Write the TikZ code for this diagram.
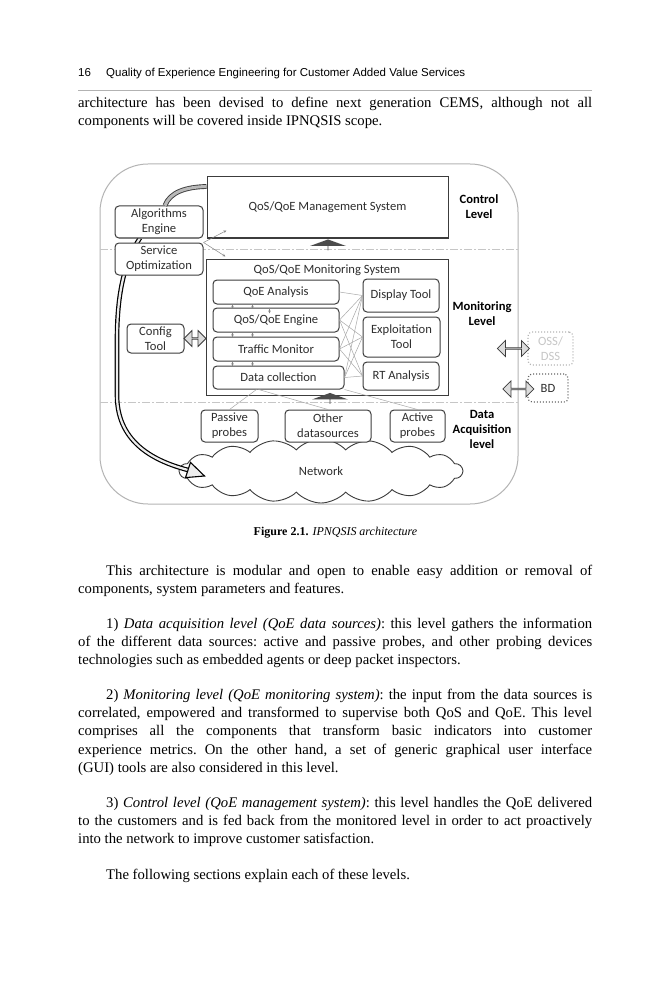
\documentclass[tikz,border=0pt]{standalone}
\usepackage{fontspec}
\setmainfont{Liberation Serif}
\newfontfamily\hdfont{Liberation Sans}
\newfontfamily\dgfont{Carlito}
\usetikzlibrary{shapes.symbols,shapes.arrows,calc,arrows.meta}
\definecolor{boxc}{HTML}{3C3C3C}
\definecolor{txtc}{HTML}{2E2E2E}
\definecolor{framec}{HTML}{B4B4B4}
\definecolor{meshc}{HTML}{A8A8A8}
\definecolor{fillc}{HTML}{DCDCDC}
\newcommand\bodyfont{\fontsize{14.7}{18.2}\selectfont\frenchspacing}
\newcommand\dgsize{\fontsize{12.6}{15}\selectfont}
\tikzset{
  box/.style={draw=boxc, line width=1pt, fill=white, font=\dgfont\dgsize, text=txtc, align=center, inner sep=0pt},
  rbox/.style={box, rounded corners=4pt},
  lvl/.style={font=\dgfont\bfseries\dgsize, text=black, align=center, inner sep=0pt},
  lbl/.style={font=\dgfont\dgsize, text=txtc, inner sep=0pt},
  mesh/.style={draw=meshc, line width=0.5pt},
  thinarr/.style={draw=meshc!80!black, line width=0.5pt, -{Stealth[length=3pt,width=2.6pt]}},
  hollowarr/.style={double arrow, draw=boxc, fill=fillc, line width=0.8pt, minimum width=16pt, double arrow head extend=4pt, inner sep=0pt},
  blockarr/.style={single arrow, shape border rotate=90, fill=gray!60!black, draw=none, minimum width=36pt, minimum height=11pt, single arrow head extend=10pt, single arrow tip angle=140, inner sep=0pt},
  sep/.style={draw=gray!45, line width=0.8pt, dash pattern=on 8pt off 2pt on 2pt off 2pt},
  para/.style={anchor=base west, inner sep=0pt}
}
\begin{document}
\begin{tikzpicture}[x=1pt,y=-1pt]
\useasboundingbox[fill=white] (0,0) rectangle (666,1000);

% header
\node[anchor=base west, inner sep=0pt, font=\hdfont\fontsize{11.5}{13}\selectfont] (pgnum) at (78,77) {16};
\node[anchor=base west, inner sep=0pt, font=\hdfont\fontsize{11.5}{13}\selectfont] (runhead) at (106,77) {Quality of Experience Engineering for Customer Added Value Services};
\coordinate (ruleL) at (78,90);
\coordinate (ruleR) at (592,90);
\draw[gray!60, line width=0.8pt] (ruleL) -- (ruleR);

% paragraph before figure
\node[para] (p0) at (78,107.5) {\parbox[t]{514pt}{\bodyfont architecture has been devised to define next generation CEMS, although not all\linebreak components will be covered inside IPNQSIS scope.}};

% ---------- figure ----------
\draw[framec, line width=1pt, rounded corners=48pt] (100,164) rectangle (518,504);
\coordinate (s1L) at (100,249); \coordinate (s1R) at (518,249);
\coordinate (s2L) at (100,402); \coordinate (s2R) at (518,402);
\draw[sep] (s1L) -- (s1R);
\draw[sep] (s2L) -- (s2R);

% cloud
\node[cloud, draw=boxc, fill=white, line width=0.9pt, cloud puffs=18, cloud puff arc=95, cloud ignores aspect, minimum width=283pt, minimum height=64pt, inner sep=0pt, font=\dgfont\dgsize, text=txtc] (net) at (321,471) {Network};

% big feedback curve (drawn before boxes)
\coordinate (fbstart) at (140,238);
\coordinate (fbend) at (188,470);
\draw[draw=black, line width=1.2pt, double=fillc!50, double distance=2.2pt]
  (fbstart) .. controls (124,262) and (117,295) .. (117,340) -- (117,395)
  .. controls (117,440) and (150,460) .. (fbend);
\draw[draw=black, fill=fillc!50, line width=1.1pt, line join=miter] (185.5,477.6) -- (204.5,476) -- (190.5,462.4) -- cycle;

% control level
\node[box, minimum width=241pt, minimum height=61pt] (mgmt) at (327.5,207.5) {QoS/QoE Management System};
\node[rbox, minimum width=88pt, minimum height=32pt] (alg) at (159,222) {Algorithms\\Engine};
\node[rbox, minimum width=88pt, minimum height=32pt] (svc) at (159,259) {Service\\Optimization};
\draw[draw=boxc, line width=0.9pt, double=gray!55, double distance=3pt]
  ([xshift=6pt]alg.north) .. controls (170,192) and (186,187) .. ([yshift=-10pt]mgmt.west |- mgmt.north);
\node[lvl] (ctrllvl) at (479,207) {Control\\Level};

% monitoring level
\node[box, minimum width=242pt, minimum height=136pt] (mon) at (327,327) {};
\node[lbl] (montitle) at (327,270) {QoS/QoE Monitoring System};
\node[rbox, minimum width=126pt, minimum height=24pt] (qoea) at (276,292) {QoE Analysis};
\node[rbox, minimum width=126pt, minimum height=24pt] (eng) at (276,320) {QoS/QoE Engine};
\node[rbox, minimum width=126pt, minimum height=24pt] (tm) at (276,349) {Traffic Monitor};
\node[rbox, minimum width=131pt, minimum height=23pt] (dc) at (278.5,377.5) {Data collection};
\node[rbox, minimum width=76pt, minimum height=33pt] (disp) at (401,295.5) {Display Tool};
\node[rbox, minimum width=77pt, minimum height=40pt] (expl) at (401.5,337) {Exploitation\\Tool};
\node[rbox, minimum width=76pt, minimum height=28pt] (rt) at (401,376) {RT Analysis};
\node[rbox, minimum width=57pt, minimum height=29pt] (cfg) at (155.5,338.5) {Config\\Tool};
\node[lvl] (monlvl) at (482,314) {Monitoring\\Level};

% mesh connectors
\foreach \a/\b in {qoea/disp, eng/disp, eng/expl, eng/rt, tm/disp, tm/expl, tm/rt, dc/expl, dc/rt, dc/disp}
  \draw[mesh] (\a.east) -- (\b.west);
\foreach \a/\b in {tm/eng, eng/qoea, dc/tm} {
  \draw[thinarr] ([xshift=20pt]\a.north west) -- ([xshift=20pt]\b.south west);
  \draw[thinarr] ([xshift=40pt]\a.north west) -- ([xshift=40pt]\b.south west);
}
\draw[thinarr] ([xshift=57pt]eng.north west) -- ([xshift=57pt,yshift=-9pt]qoea.south west);

% thin arrows from service optimization
\draw[thinarr] (svc.north east) -- ($(mgmt.south west)+(20,-8)$);
\draw[thinarr] (svc.north east) -- ($(mon.north west)+(20,-2)$);

% block arrows
\node[blockarr] (up1) at (328,245) {};
\node[blockarr] (up2) at (330,398.5) {};

% hollow double arrows
\node[hollowarr, minimum height=22pt] (cfgarr) at ($(cfg.east)!0.5!(mon.west |- cfg.east)$) {};
\node[rbox, draw=framec, dotted, line width=1.2pt, minimum width=45pt, minimum height=33pt, text=gray!45] (oss) at (550.5,348.5) {OSS/\\DSS};
\node[rbox, draw=boxc!80, dotted, line width=1.2pt, minimum width=40pt, minimum height=28pt] (bd) at (548,388) {BD};
\node[hollowarr, minimum height=32pt] (ossarr) at ($(oss.west)+(-14,0)$) {};
\node[hollowarr, minimum height=31pt] (bdarr) at ($(bd.west)+(-9,1)$) {};

% data acquisition level
\node[rbox, minimum width=57pt, minimum height=32pt] (pp) at (229.5,426) {Passive\\probes};
\node[rbox, minimum width=86pt, minimum height=32pt] (od) at (328,426) {Other\\datasources};
\node[rbox, minimum width=55pt, minimum height=32pt] (ap) at (417.5,426) {Active\\probes};
\node[lvl] (dalvl) at (482,429) {Data\\Acquisition\\level};
\draw[mesh] (pp.north) -- ([xshift=44pt]dc.south west);
\draw[mesh] (od.north) -- ([xshift=-20pt]dc.south);
\draw[mesh] (ap.north) -- (dc.south east);

% caption
\node[inner sep=0pt, anchor=base, font=\fontsize{12}{14}\selectfont] (cap) at (335.5,535) {\textbf{Figure 2.1.} \textit{IPNQSIS architecture}};

% body text
\node[para] (p1) at (78,575.5) {\parbox[t]{514pt}{\bodyfont\hspace*{28pt}This architecture is modular and open to enable easy addition or removal of\linebreak components, system parameters and features.}};
\node[para] (p2) at (78,628.5) {\parbox[t]{514pt}{\bodyfont\hspace*{28pt}1) \textit{Data acquisition level (QoE data sources)}: this level gathers the information\linebreak of the different data sources: active and passive probes, and other probing devices\linebreak technologies such as embedded agents or deep packet inspectors.}};
\node[para] (p3) at (78,699.5) {\parbox[t]{514pt}{\bodyfont\hspace*{28pt}2) \textit{Monitoring level (QoE monitoring system)}: the input from the data sources is\linebreak correlated, empowered and transformed to supervise both QoS and QoE. This level\linebreak comprises all the components that transform basic indicators into customer\linebreak experience metrics. On the other hand, a set of generic graphical user interface\linebreak (GUI) tools are also considered in this level.}};
\node[para] (p4) at (78,807.5) {\parbox[t]{514pt}{\bodyfont\hspace*{28pt}3) \textit{Control level (QoE management system)}: this level handles the QoE delivered\linebreak to the customers and is fed back from the monitored level in order to act proactively\linebreak into the network to improve customer satisfaction.}};
\node[para] (p5) at (78,879.5) {\parbox[t]{514pt}{\bodyfont\hspace*{28pt}The following sections explain each of these levels.}};
\end{tikzpicture}
\end{document}
